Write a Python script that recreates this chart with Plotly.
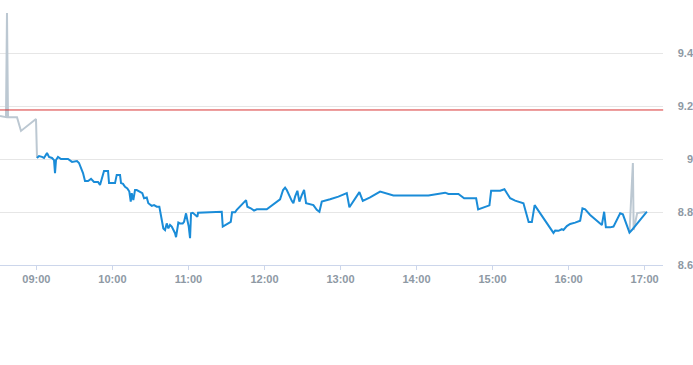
import plotly.graph_objects as go

DAY = "2024-01-02 "

# Pre-market / out-of-session trades (grey)
pre_times = ["08:31:16", "08:36:00", "08:36:47", "08:37:35", "08:44:41", "08:47:50", "08:59:41", "09:00:28"]
pre_prices = [9.162, 9.158, 9.551, 9.158, 9.158, 9.106, 9.151, 9.004]

post_times = ["16:48:05", "16:50:46", "16:51:23", "16:54:10", "17:00:28"]
post_prices = [8.722, 8.985, 8.732, 8.796, 8.800]

# Regular-session price (blue)
times = [
    "09:00:28", "09:02:03", "09:04:25", "09:06:00", "09:08:22", "09:09:57", "09:12:19", "09:13:54",
    "09:14:41", "09:15:28", "09:17:03", "09:19:25", "09:24:57", "09:26:32", "09:28:06", "09:32:03",
    "09:33:38", "09:36:47", "09:38:22", "09:40:44", "09:43:06", "09:45:28", "09:48:38", "09:50:13",
    "09:51:47", "09:53:22", "09:56:32", "09:57:19", "10:02:03", "10:03:24", "10:06:00", "10:06:47",
    "10:08:22", "10:09:57", "10:11:46", "10:13:20", "10:14:27", "10:15:14", "10:16:30", "10:17:50",
    "10:19:11", "10:21:14", "10:23:36", "10:24:57", "10:27:05", "10:28:21", "10:29:41", "10:31:02",
    "10:32:51", "10:34:58", "10:37:02", "10:38:08", "10:38:55", "10:39:43", "10:40:11", "10:41:32",
    "10:42:52", "10:44:08", "10:45:28", "10:46:49", "10:48:05", "10:49:25", "10:50:13", "10:51:14",
    "10:52:02", "10:53:22", "10:55:30", "10:56:32", "10:58:06", "10:59:08", "11:00:14", "11:01:16",
    "11:02:03", "11:03:24", "11:05:12", "11:07:02", "11:07:35", "11:26:17", "11:27:05", "11:28:54",
    "11:31:30", "11:33:24", "11:34:25", "11:36:47", "11:38:08", "11:40:44", "11:43:21", "11:45:28",
    "11:46:30", "11:49:11", "11:51:47", "11:53:55", "12:01:49", "12:04:25", "12:08:22", "12:12:19",
    "12:14:41", "12:16:16", "12:17:37", "12:19:39", "12:21:33", "12:22:49", "12:24:09", "12:25:58",
    "12:27:33", "12:29:27", "12:31:16", "12:32:50", "12:36:00", "12:38:37", "12:41:17", "12:43:21",
    "12:45:14", "12:47:51", "12:51:47", "12:58:21", "13:04:58", "13:07:02", "13:10:11", "13:14:55",
    "13:17:37", "13:23:22", "13:31:16", "13:41:46", "14:09:24", "14:22:35", "14:25:11", "14:33:05",
    "14:37:35", "14:47:03", "14:48:38", "14:57:33", "14:58:53", "15:06:00", "15:09:24", "15:13:54",
    "15:17:50", "15:24:24", "15:28:30", "15:31:02", "15:33:14", "15:48:05", "15:49:25", "15:52:02",
    "15:54:43", "15:55:58", "15:58:39", "16:01:16", "16:05:12", "16:09:09", "16:10:58", "16:13:06",
    "16:17:03", "16:26:17", "16:28:06", "16:29:27", "16:32:50", "16:35:27", "16:40:44", "16:42:52",
    "16:48:05", "16:49:58", "17:01:49",
]
prices = [
    9.004, 9.011, 9.008, 9.004, 9.023, 9.008, 9.004, 8.996,
    8.947, 8.996, 9.008, 9.000, 9.000, 8.996, 8.989, 8.992,
    8.985, 8.947, 8.917, 8.917, 8.925, 8.913, 8.913, 8.902,
    8.932, 8.955, 8.955, 8.909, 8.909, 8.940, 8.940, 8.909,
    8.906, 8.895, 8.889, 8.877, 8.839, 8.871, 8.845, 8.883,
    8.883, 8.877, 8.871, 8.852, 8.855, 8.833, 8.826, 8.823,
    8.826, 8.820, 8.820, 8.789, 8.782, 8.751, 8.738, 8.732,
    8.757, 8.738, 8.751, 8.745, 8.732, 8.720, 8.705, 8.732,
    8.760, 8.757, 8.757, 8.763, 8.795, 8.770, 8.745, 8.701,
    8.795, 8.797, 8.789, 8.782, 8.797, 8.801, 8.745, 8.751,
    8.757, 8.763, 8.799, 8.799, 8.808, 8.820, 8.833, 8.845,
    8.820, 8.814, 8.805, 8.810, 8.810, 8.820, 8.835, 8.848,
    8.883, 8.892, 8.883, 8.858, 8.842, 8.833, 8.858, 8.880,
    8.839, 8.864, 8.883, 8.833, 8.829, 8.826, 8.808, 8.801,
    8.839, 8.842, 8.848, 8.858, 8.871, 8.818, 8.839, 8.875,
    8.842, 8.855, 8.877, 8.862, 8.862, 8.873, 8.868, 8.868,
    8.852, 8.852, 8.810, 8.825, 8.880, 8.880, 8.886, 8.852,
    8.843, 8.833, 8.762, 8.762, 8.826, 8.721, 8.730, 8.729,
    8.735, 8.732, 8.747, 8.755, 8.760, 8.767, 8.814, 8.810,
    8.789, 8.751, 8.801, 8.742, 8.742, 8.745, 8.795, 8.791,
    8.722, 8.732, 8.801,
]

prev_close = 9.185
x_start, x_end = "08:31:16", "17:14:42"
y_ticks = [8.6, 8.8, 9.0, 9.2, 9.4]

BLUE = "#1a8cd8"
GREY = "#bcc8d2"
LABEL = "#8e99a4"

fig = go.Figure()
fig.add_trace(go.Scatter(x=[DAY + t for t in pre_times], y=pre_prices, mode="lines",
                         line=dict(color=GREY, width=2), hoverinfo="skip"))
fig.add_trace(go.Scatter(x=[DAY + t for t in post_times], y=post_prices, mode="lines",
                         line=dict(color=GREY, width=2), hoverinfo="skip"))
fig.add_trace(go.Scatter(x=[DAY + t for t in times], y=prices, mode="lines",
                         line=dict(color=BLUE, width=2)))

fig.add_hline(y=prev_close, line=dict(color="#d93434", width=1))

fig.update_layout(
    width=693, height=365,
    margin=dict(l=0, r=0, t=0, b=100),
    paper_bgcolor="white", plot_bgcolor="white",
    showlegend=False,
    font=dict(family="Liberation Sans", size=11, color=LABEL),
    xaxis=dict(
        type="date", range=[DAY + x_start, DAY + x_end], domain=[0, 0.957],
        tickformat="%H:%M", dtick=3600000, tick0=DAY + "09:00",
        showgrid=False, showline=True, linecolor="#ccd6eb", linewidth=1,
        ticks="outside", ticklen=4, tickcolor="#ccd6eb",
        tickfont=dict(size=11, color=LABEL, weight="bold"),
        zeroline=False,
    ),
    yaxis=dict(
        range=[8.6, 9.6], tickvals=y_ticks, ticktext=[f"{v:g}" for v in y_ticks],
        anchor="free", position=1.0, side="left",
        showgrid=True, gridcolor="#e6e6e6", gridwidth=1,
        showline=False, zeroline=False, ticks="",
        tickfont=dict(size=11, color=LABEL, weight="bold"),
    ),
)

fig.write_html("out.html", config={"displayModeBar": False},
               post_script="document.body.style.margin='0';document.body.style.overflow='hidden';")
